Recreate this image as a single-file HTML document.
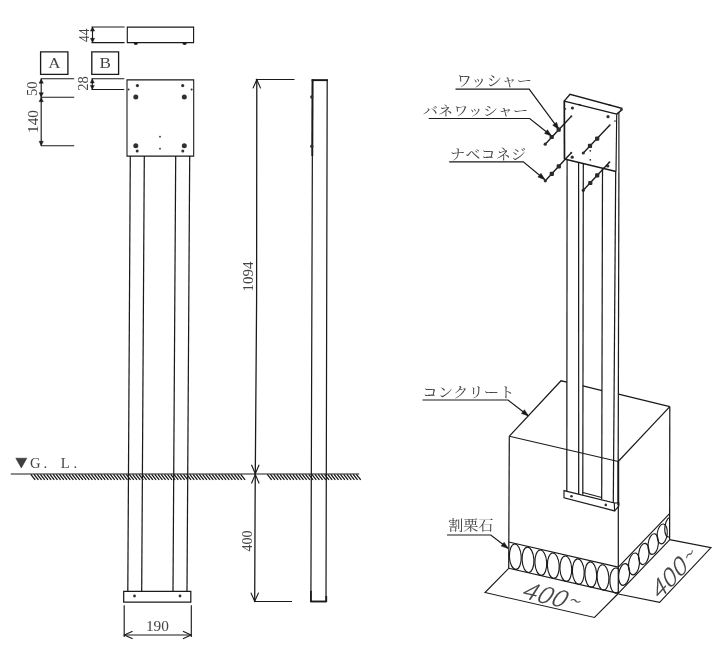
<!DOCTYPE html>
<html lang="ja">
<head>
<meta charset="utf-8">
<style>
html,body{margin:0;padding:0;background:#fff;}
body{width:720px;height:666px;overflow:hidden;}
svg{display:block;filter:blur(0.28px);font-family:"Liberation Serif","Noto Serif CJK SC",serif;}
</style>
</head>
<body>
<svg width="720" height="666" viewBox="0 0 720 666">
<rect x="0" y="0" width="720" height="666" fill="#fff"/>
<g fill="none" stroke="#1a1a1a" stroke-width="1.14" stroke-linejoin="miter">
<path d="M127.3 27.1 L193.6 27.1 L193.6 42.6 L127.3 42.6 Z" stroke-width="1.14"/>
<path d="M133.7 43 A2.1 1.9 0 0 0 137.9 43 Z" fill="#1a1a1a" stroke="none"/>
<path d="M182.5 43 A2.1 1.9 0 0 0 186.7 43 Z" fill="#1a1a1a" stroke="none"/>
<line x1="91.5" y1="27" x2="124.6" y2="27"/>
<line x1="91.5" y1="42.6" x2="124.6" y2="42.6"/>
<line x1="92.5" y1="27" x2="92.5" y2="42.6"/>
<path d="M92.5 27 L94.59 31.1 L90.41 31.1 Z" fill="#1a1a1a" stroke-width="0.47"/>
<path d="M92.5 42.4 L90.41 38.3 L94.59 38.3 Z" fill="#1a1a1a" stroke-width="0.47"/>
<path d="M40.6 51.8 L67.9 51.8 L67.9 74.4 L40.6 74.4 Z" stroke-width="1.33"/>
<path d="M91.8 51.8 L118.6 51.8 L118.6 74.4 L91.8 74.4 Z" stroke-width="1.33"/>
<line x1="40.8" y1="78.7" x2="74.2" y2="78.7"/>
<line x1="40.8" y1="97.2" x2="74.2" y2="97.2"/>
<line x1="40.8" y1="145.8" x2="74.2" y2="145.8"/>
<line x1="41.2" y1="78.7" x2="41.2" y2="145.8"/>
<path d="M41.2 78.9 L43.3 83.21 L39.1 83.21 Z" fill="#1a1a1a" stroke-width="0.47"/>
<path d="M41.2 97 L39.1 92.69 L43.3 92.69 Z" fill="#1a1a1a" stroke-width="0.47"/>
<path d="M41.2 97.4 L43.3 101.71 L39.1 101.71 Z" fill="#1a1a1a" stroke-width="0.47"/>
<path d="M41.2 145.6 L39.1 141.29 L43.3 141.29 Z" fill="#1a1a1a" stroke-width="0.47"/>
<line x1="91.5" y1="78.8" x2="124.3" y2="78.8"/>
<line x1="91.5" y1="89.5" x2="124.3" y2="89.5"/>
<line x1="92.3" y1="78.8" x2="92.3" y2="89.5"/>
<path d="M92.3 79 L94.3 82.92 L90.3 82.92 Z" fill="#1a1a1a" stroke-width="0.47"/>
<path d="M92.3 89.3 L90.3 85.38 L94.3 85.38 Z" fill="#1a1a1a" stroke-width="0.47"/>
<path d="M127 79.9 L193.7 79.9 L193.7 156.1 L127 156.1 Z" stroke-width="1.09"/>
<circle cx="137.4" cy="85.6" r="1.6" fill="#303030" stroke="none"/>
<circle cx="182.7" cy="85.6" r="1.6" fill="#303030" stroke="none"/>
<circle cx="135.8" cy="97" r="2.5" fill="#303030" stroke="none"/>
<circle cx="135.8" cy="145.8" r="2.5" fill="#303030" stroke="none"/>
<circle cx="184.3" cy="97" r="2.5" fill="#303030" stroke="none"/>
<circle cx="184.3" cy="145.8" r="2.5" fill="#303030" stroke="none"/>
<circle cx="137.2" cy="151.1" r="1.5" fill="#303030" stroke="none"/>
<circle cx="182.8" cy="151.1" r="1.5" fill="#303030" stroke="none"/>
<circle cx="160" cy="136.7" r="0.9" fill="#303030" stroke="none"/>
<circle cx="160" cy="148.7" r="0.9" fill="#303030" stroke="none"/>
<circle cx="128.6" cy="89.4" r="1.0" fill="#303030" stroke="none"/>
<circle cx="191.6" cy="89.4" r="1.0" fill="#303030" stroke="none"/>
<line x1="130.3" y1="156" x2="127.8" y2="591.3" stroke-width="1.23"/>
<line x1="144.3" y1="156" x2="141.7" y2="591.3" stroke-width="1.23"/>
<line x1="175.7" y1="156" x2="173" y2="591.3" stroke-width="1.23"/>
<line x1="189.7" y1="156" x2="187" y2="591.3" stroke-width="1.23"/>
<path d="M123.7 591.3 L190.8 591.3 L190.8 602.2 L123.7 602.2 Z" stroke-width="1.23"/>
<circle cx="134.5" cy="596" r="1.4" fill="#303030" stroke="none"/>
<circle cx="180" cy="596" r="1.4" fill="#303030" stroke="none"/>
<line x1="124.2" y1="605.3" x2="124.2" y2="637"/>
<line x1="191.3" y1="605.3" x2="191.3" y2="637"/>
<line x1="124.2" y1="635" x2="191.3" y2="635"/>
<path d="M132.56 631.2 L124.4 635 L132.56 638.8"/>
<path d="M182.94 638.8 L191.1 635 L182.94 631.2"/>
<line x1="10.8" y1="474" x2="359.2" y2="474" stroke-width="1.23"/>
<path d="M30.8 474.3l4.4 5.6M33.98 474.3l4.4 5.6M37.16 474.3l4.4 5.6M40.34 474.3l4.4 5.6M43.52 474.3l4.4 5.6M46.7 474.3l4.4 5.6M49.88 474.3l4.4 5.6M53.06 474.3l4.4 5.6M56.24 474.3l4.4 5.6M59.42 474.3l4.4 5.6M62.6 474.3l4.4 5.6M65.78 474.3l4.4 5.6M68.96 474.3l4.4 5.6M72.14 474.3l4.4 5.6M75.32 474.3l4.4 5.6M78.5 474.3l4.4 5.6M81.68 474.3l4.4 5.6M84.86 474.3l4.4 5.6M88.04 474.3l4.4 5.6M91.22 474.3l4.4 5.6M94.4 474.3l4.4 5.6M97.58 474.3l4.4 5.6M100.76 474.3l4.4 5.6M103.94 474.3l4.4 5.6M107.12 474.3l4.4 5.6M110.3 474.3l4.4 5.6M113.48 474.3l4.4 5.6M116.66 474.3l4.4 5.6M119.84 474.3l4.4 5.6M123.02 474.3l4.4 5.6M126.2 474.3l4.4 5.6M129.38 474.3l4.4 5.6M132.56 474.3l4.4 5.6M135.74 474.3l4.4 5.6M138.92 474.3l4.4 5.6M142.1 474.3l4.4 5.6M145.28 474.3l4.4 5.6M148.46 474.3l4.4 5.6M151.64 474.3l4.4 5.6M154.82 474.3l4.4 5.6M158 474.3l4.4 5.6M161.18 474.3l4.4 5.6M164.36 474.3l4.4 5.6M167.54 474.3l4.4 5.6M170.72 474.3l4.4 5.6M173.9 474.3l4.4 5.6M177.08 474.3l4.4 5.6M180.26 474.3l4.4 5.6M183.44 474.3l4.4 5.6M186.62 474.3l4.4 5.6M189.8 474.3l4.4 5.6M192.98 474.3l4.4 5.6M196.16 474.3l4.4 5.6M199.34 474.3l4.4 5.6M202.52 474.3l4.4 5.6M205.7 474.3l4.4 5.6M208.88 474.3l4.4 5.6M212.06 474.3l4.4 5.6M215.24 474.3l4.4 5.6M218.42 474.3l4.4 5.6M221.6 474.3l4.4 5.6M224.78 474.3l4.4 5.6M227.96 474.3l4.4 5.6M231.14 474.3l4.4 5.6M234.32 474.3l4.4 5.6M237.5 474.3l4.4 5.6M240.68 474.3l4.4 5.6" stroke-width="1.33"/>
<path d="M267.3 474.3l4.4 5.6M270.48 474.3l4.4 5.6M273.66 474.3l4.4 5.6M276.84 474.3l4.4 5.6M280.02 474.3l4.4 5.6M283.2 474.3l4.4 5.6M286.38 474.3l4.4 5.6M289.56 474.3l4.4 5.6M292.74 474.3l4.4 5.6M295.92 474.3l4.4 5.6M299.1 474.3l4.4 5.6M302.28 474.3l4.4 5.6M305.46 474.3l4.4 5.6M308.64 474.3l4.4 5.6M311.82 474.3l4.4 5.6M315 474.3l4.4 5.6M318.18 474.3l4.4 5.6M321.36 474.3l4.4 5.6M324.54 474.3l4.4 5.6M327.72 474.3l4.4 5.6M330.9 474.3l4.4 5.6M334.08 474.3l4.4 5.6M337.26 474.3l4.4 5.6M340.44 474.3l4.4 5.6M343.62 474.3l4.4 5.6M346.8 474.3l4.4 5.6M349.98 474.3l4.4 5.6M353.16 474.3l4.4 5.6M356.34 474.3l4.4 5.6" stroke-width="1.33"/>
<path d="M15.8 458.2 L26.8 458.2 L21.3 467.9 Z" fill="#404040" stroke-width="0.47"/>
<path d="M256.8 79.5 L256.6 300 L255.1 500 L254.7 601.6" stroke-width="1.28"/>
<line x1="255.8" y1="79.5" x2="294.5" y2="79.5" stroke-width="1.14"/>
<line x1="254.5" y1="601.5" x2="292" y2="601.5" stroke-width="1.04"/>
<path d="M260.66 88.38 L256.8 79.7 L252.94 88.38"/>
<path d="M251.47 464.78 L255.3 473.8 L259.13 464.78"/>
<path d="M259.13 483.42 L255.3 474.4 L251.47 483.42"/>
<path d="M250.84 592.62 L254.7 601.3 L258.56 592.62"/>
<path d="M310.9 601.6 L312.6 80 L327.2 80 L326 601.6 Z" stroke-width="1.23"/>
<line x1="312.5" y1="79.3" x2="312.3" y2="156" stroke-width="1.9"/>
<line x1="311.6" y1="80.2" x2="328" y2="80.2" stroke-width="1.8"/>
<line x1="310.6" y1="601.4" x2="326.6" y2="601.4" stroke-width="1.71"/>
<line x1="311" y1="590.8" x2="310.9" y2="602" stroke-width="1.71"/>
<line x1="326.3" y1="596" x2="326.3" y2="602" stroke-width="1.71"/>
<circle cx="311.8" cy="97" r="1.7" fill="#303030" stroke="none"/>
<circle cx="311.8" cy="146.2" r="1.7" fill="#303030" stroke="none"/>
<path d="M455.5 89.2 L529.2 89.2 L558.7 129.2" stroke-width="1.19"/>
<path d="M558.88 129.44 L552.7 125.18 L556.63 122.28 Z" fill="#1a1a1a" stroke-width="0.47"/>
<path d="M428.7 118.5 L529.7 118.5 L551.3 135.8" stroke-width="1.19"/>
<path d="M551.53 135.99 L544.47 133.46 L547.53 129.65 Z" fill="#1a1a1a" stroke-width="0.47"/>
<path d="M449.2 161.9 L523.3 161.9 L544.7 179.5" stroke-width="1.19"/>
<path d="M544.93 179.69 L537.9 177.07 L541.01 173.3 Z" fill="#1a1a1a" stroke-width="0.47"/>
<path d="M422.5 400 L508 400 L528.3 415.8" stroke-width="1.19"/>
<path d="M528.54 415.98 L521.44 413.56 L524.44 409.7 Z" fill="#1a1a1a" stroke-width="0.47"/>
<path d="M447 535 L490.8 535 L508 548.3" stroke-width="1.19"/>
<path d="M508.24 548.48 L501.13 546.08 L504.12 542.21 Z" fill="#1a1a1a" stroke-width="0.47"/>
<path d="M564.2 101.1 L570 94.4 L621.7 108.3 L621.3 110.3 L616.7 114.1" stroke-width="1.42"/>
<line x1="564.2" y1="101.1" x2="616.7" y2="114.1" stroke-width="1.42"/>
<line x1="564.3" y1="100.6" x2="564.5" y2="159.3" stroke-width="1.71"/>
<line x1="564.5" y1="159" x2="616.1" y2="171.5" stroke-width="1.33"/>
<line x1="616.7" y1="114.1" x2="616" y2="171.5" stroke-width="1.14"/>
<line x1="618.9" y1="112.6" x2="618.9" y2="171.5" stroke-width="1.14"/>
<circle cx="621.5" cy="109.6" r="1.3" fill="#303030" stroke="none"/>
<circle cx="572.4" cy="108" r="1.6" fill="#303030" stroke="none"/>
<circle cx="608" cy="116.7" r="1.6" fill="#303030" stroke="none"/>
<circle cx="572.2" cy="157.2" r="1.6" fill="#303030" stroke="none"/>
<circle cx="607.8" cy="166" r="1.6" fill="#303030" stroke="none"/>
<circle cx="590.3" cy="150.8" r="0.9" fill="#303030" stroke="none"/>
<circle cx="590.3" cy="159.8" r="0.9" fill="#303030" stroke="none"/>
<circle cx="565.4" cy="108.9" r="0.8" fill="#303030" stroke="none"/>
<circle cx="615" cy="121.1" r="0.8" fill="#303030" stroke="none"/>
<line x1="578" y1="104.4" x2="581" y2="105.1" stroke-width="1.14"/>
<line x1="608.5" y1="104.8" x2="611.5" y2="105.5" stroke-width="1.14"/>
<line x1="545.2" y1="144.2" x2="571.4" y2="116.2" stroke-width="1.33"/>
<rect x="549.6" y="134.9" width="4.2" height="4.2" rx="1" fill="#2a2a2a" stroke="none"/>
<rect x="556.6" y="127.5" width="4.2" height="4.2" rx="1" fill="#2a2a2a" stroke="none"/>
<circle cx="545.2" cy="144.2" r="1.6" fill="#303030" stroke="none"/>
<circle cx="571.4" cy="116.2" r="1.0" fill="#303030" stroke="none"/>
<line x1="545.3" y1="180.8" x2="571.3" y2="152.8" stroke-width="1.33"/>
<rect x="549.7" y="171.8" width="4.2" height="4.2" rx="1" fill="#2a2a2a" stroke="none"/>
<rect x="556.7" y="164.3" width="4.2" height="4.2" rx="1" fill="#2a2a2a" stroke="none"/>
<circle cx="545.3" cy="180.8" r="1.6" fill="#303030" stroke="none"/>
<circle cx="571.3" cy="152.8" r="1.0" fill="#303030" stroke="none"/>
<line x1="583.3" y1="153" x2="609.7" y2="125.2" stroke-width="1.33"/>
<rect x="587.9" y="143.8" width="4.2" height="4.2" rx="1" fill="#2a2a2a" stroke="none"/>
<rect x="595.1" y="136.5" width="4.2" height="4.2" rx="1" fill="#2a2a2a" stroke="none"/>
<circle cx="583.3" cy="153" r="1.6" fill="#303030" stroke="none"/>
<circle cx="609.7" cy="125.2" r="1.0" fill="#303030" stroke="none"/>
<line x1="583.3" y1="190.3" x2="609.4" y2="162.2" stroke-width="1.33"/>
<rect x="588.2" y="180.9" width="4.2" height="4.2" rx="1" fill="#2a2a2a" stroke="none"/>
<rect x="595.1" y="173.3" width="4.2" height="4.2" rx="1" fill="#2a2a2a" stroke="none"/>
<circle cx="583.3" cy="190.3" r="1.6" fill="#303030" stroke="none"/>
<circle cx="609.4" cy="162.2" r="1.0" fill="#303030" stroke="none"/>
<line x1="567.1" y1="160" x2="566.8" y2="491" stroke-width="1.23"/>
<line x1="578.6" y1="162.6" x2="578.7" y2="494" stroke-width="1.23"/>
<line x1="583.3" y1="163.6" x2="582.8" y2="494.8" stroke-width="1.23"/>
<line x1="602.5" y1="168.2" x2="601.7" y2="499.3" stroke-width="1.23"/>
<line x1="615.7" y1="171.4" x2="613.3" y2="502.8" stroke-width="1.23"/>
<line x1="618.9" y1="171.5" x2="618.2" y2="461.5" stroke-width="1.23"/>
<path d="M564 490.6 L614.3 503 L614.6 510.9 L564 497.8 Z" stroke-width="1.14"/>
<path d="M614.6 510.9 L618.8 506.2 L618.8 502.8 L614.3 503" stroke-width="1.14"/>
<line x1="618.3" y1="461.5" x2="618.3" y2="505" stroke-width="1.8"/>
<circle cx="571.5" cy="496.3" r="1.3" fill="#303030" stroke="none"/>
<circle cx="605.8" cy="504.9" r="1.3" fill="#303030" stroke="none"/>
<line x1="582.8" y1="492.6" x2="601.7" y2="497.4" stroke-width="1.04"/>
<path d="M509.4 436.2 L561 380.8 L567 382.2" stroke-width="1.23"/>
<line x1="582.9" y1="385.8" x2="602" y2="390.6" stroke-width="1.23"/>
<line x1="618.5" y1="394.2" x2="669.8" y2="406.7" stroke-width="1.23"/>
<line x1="509.4" y1="436.2" x2="618.2" y2="461.5" stroke-width="1.04"/>
<line x1="618.2" y1="461.5" x2="669.8" y2="406.7" stroke-width="1.19"/>
<line x1="509.3" y1="436.2" x2="508.7" y2="568.5" stroke-width="1.23"/>
<line x1="618.3" y1="461.5" x2="618.3" y2="593.5" stroke-width="1.23"/>
<line x1="669.8" y1="406.7" x2="669.6" y2="539.8" stroke-width="1.23"/>
<line x1="508.7" y1="542" x2="618.3" y2="567.1" stroke-width="1.14"/>
<line x1="618.3" y1="567.1" x2="669.6" y2="513.7" stroke-width="1.14"/>
<line x1="508.7" y1="568.3" x2="618.3" y2="593.4" stroke-width="1.14"/>
<line x1="618.3" y1="593.4" x2="669.6" y2="539.8" stroke-width="1.14"/>
<ellipse cx="515.3" cy="556.7" rx="5.9" ry="12.7" transform="rotate(-3 515.3 556.7)" stroke-width="1.14"/>
<ellipse cx="528" cy="559.8" rx="5.9" ry="12.7" transform="rotate(-3 528 559.8)" stroke-width="1.14"/>
<ellipse cx="540.8" cy="562.7" rx="5.9" ry="12.7" transform="rotate(-3 540.8 562.7)" stroke-width="1.14"/>
<ellipse cx="553.3" cy="565.7" rx="5.9" ry="12.7" transform="rotate(-3 553.3 565.7)" stroke-width="1.14"/>
<ellipse cx="565.8" cy="568.7" rx="5.9" ry="12.7" transform="rotate(-3 565.8 568.7)" stroke-width="1.14"/>
<ellipse cx="578.3" cy="571.6" rx="5.9" ry="12.7" transform="rotate(-3 578.3 571.6)" stroke-width="1.14"/>
<ellipse cx="590.8" cy="574.5" rx="5.9" ry="12.7" transform="rotate(-3 590.8 574.5)" stroke-width="1.14"/>
<ellipse cx="603" cy="577.4" rx="5.9" ry="12.7" transform="rotate(-3 603 577.4)" stroke-width="1.14"/>
<path d="M618.3 569.2 A5.9 12.6 0 1 0 618.3 592" stroke-width="1.14"/>
<ellipse cx="624.1" cy="574.5" rx="5.4" ry="11" transform="rotate(7 624.1 574.5)" stroke-width="1.14"/>
<ellipse cx="634" cy="563.9" rx="5.4" ry="11" transform="rotate(7 634 563.9)" stroke-width="1.14"/>
<ellipse cx="643.8" cy="554" rx="5.2" ry="10.7" transform="rotate(7 643.8 554)" stroke-width="1.14"/>
<ellipse cx="653.2" cy="544.1" rx="5.1" ry="10.4" transform="rotate(7 653.2 544.1)" stroke-width="1.14"/>
<ellipse cx="662.2" cy="533.9" rx="5" ry="10" transform="rotate(7 662.2 533.9)" stroke-width="1.14"/>
<path d="M669.5 517.5 A4.6 9.8 7 1 0 669.5 536.8" stroke-width="1.14"/>
<path d="M508.7 568.4 L485 592.5 L594.5 617.5 L617.8 594" stroke-width="1.09"/>
<path d="M669.6 539.6 L711 547.6 L659.6 602.3 L618.3 594" stroke-width="1.09"/>
</g>
<g fill="#444" stroke="none">
<text transform="translate(88.58 41.95) rotate(-90) scale(0.938 1)" font-size="14.38">44</text>
<text transform="translate(48.33 68.3) scale(1.091 1)" font-size="15.52">A</text>
<text transform="translate(99.38 68.42) scale(1.134 1)" font-size="15.14">B</text>
<text transform="translate(37.25 96) rotate(-90) scale(0.986 1)" font-size="14.77">50</text>
<text transform="translate(37.63 132.95) rotate(-90)" font-size="15.18">140</text>
<text transform="translate(88.3 90.8) rotate(-90) scale(0.985 1)" font-size="14.78">28</text>
<text transform="translate(145.88 630.92) scale(1.065 1)" font-size="14.38">190</text>
<text y="467.6" font-size="14.6" x="30 43.6 52 60.8 73.6">G. L.</text>
<text transform="translate(253.07 291.38) rotate(-90) scale(0.987 1)" font-size="15.16">1094</text>
<text transform="translate(251.5 551.45) rotate(-90) scale(0.948 1)" font-size="14.76">400</text>
<text transform="translate(456.45 85.88) scale(1.080 1)" font-size="14.24" font-weight="400">ワッシャー</text>
<text transform="translate(422.7 115.33) scale(1.172 1)" font-size="13.01" font-weight="400">バネワッシャー</text>
<text transform="translate(450 158.8) scale(1.096 1)" font-size="13.9" font-weight="400">ナベコネジ</text>
<text transform="translate(422.37 396.5) scale(1.110 1)" font-size="13.92" font-weight="400">コンクリート</text>
<text transform="translate(448.17 530.05) scale(1.128 1)" font-size="13.39" font-weight="400">割栗石</text>
<text transform="matrix(1.072 0.247 -0.533 0.821 519.8 597.6)" font-size="25" font-weight="300" stroke="#444" stroke-width="0.15" font-family="'Noto Sans CJK JP','Liberation Sans',sans-serif">400<tspan dx="1.5" dy="-3" font-size="20">~</tspan></text>
<text transform="matrix(0.743 -0.811 0.442 0.850 659.1 601)" font-size="25" font-weight="300" stroke="#444" stroke-width="0.15" font-family="'Noto Sans CJK JP','Liberation Sans',sans-serif">400<tspan dx="1.5" dy="-3" font-size="20">~</tspan></text>
</g>
</svg>
</body>
</html>
